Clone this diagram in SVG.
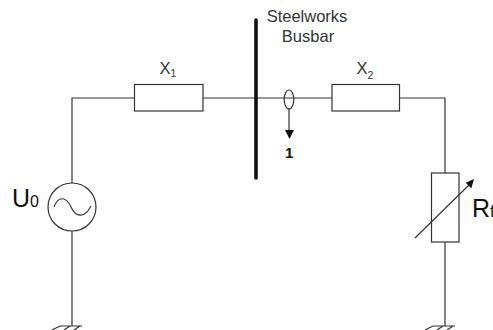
<svg xmlns="http://www.w3.org/2000/svg" width="493" height="330" viewBox="0 0 493 330">
<style>
.w{fill:none;stroke:#333;stroke-width:1.2}
.b{fill:#fff;stroke:#333;stroke-width:1.2}
text{font-family:"Liberation Sans",Arial,sans-serif;fill:#333}
.s{font-size:16.500px}
.x{font-size:16.500px}
.sub{font-size:10.500px}
.big{font-size:25px;fill:#111}
.sm{font-size:16px;fill:#111}
</style>
<rect width="493" height="330" fill="#fff"/>
<g id="connectors">
<path class="w" d="M72 326V231M72 183V98H134M203 98H332M399 98H445V173M445 242V326"/>
<path d="M256 20V178" fill="none" stroke="#111" stroke-width="3.600" stroke-linecap="round"/>
<path class="w" d="M289 108V130"/>
<path d="M285 130H294L289.500 139Z" fill="#111"/>
</g>
<g id="source"><circle class="b" cx="72" cy="207" r="24"/><path class="w" d="M54 207C58 196 66 196 71 207S85 218 91 206"/></g>
<g id="x1"><rect class="b" x="134.500" y="84.500" width="68.500" height="26.500"/></g>
<g id="x2"><rect class="b" x="332" y="84.500" width="67.500" height="26.500"/></g>
<g id="rf"><rect class="b" x="431.500" y="173" width="27.500" height="69"/><path class="w" d="M415 238L469 185"/><path d="M474 179L465.700 182.700L471.300 188.300Z" fill="#111"/></g>
<g id="ct"><ellipse class="w" cx="289" cy="99.500" rx="4.800" ry="9.500"/></g>
<g id="labels">
<text class="s" x="307" y="22" text-anchor="middle">Steelworks</text>
<text class="s" x="308" y="41.500" text-anchor="middle">Busbar</text>
<text class="x" x="159.500" y="74">X<tspan class="sub" dy="3">1</tspan></text>
<text class="x" x="356.500" y="74">X<tspan class="sub" dy="5">2</tspan></text>
<text x="285" y="158" font-size="15" font-weight="bold" style="fill:#111">1</text>
<text class="big" x="12" y="207">U<tspan class="sm">0</tspan></text>
<text class="big" x="472" y="217">R<tspan class="sm">f</tspan></text>
</g>
<g id="grounds"><path class="w" d="M60 326H82M52 330L60 326M64 330L70 326M74 330L80 326M433 326H455M425 330L433 326M437 330L443 326M447 330L453 326"/></g>
</svg>
